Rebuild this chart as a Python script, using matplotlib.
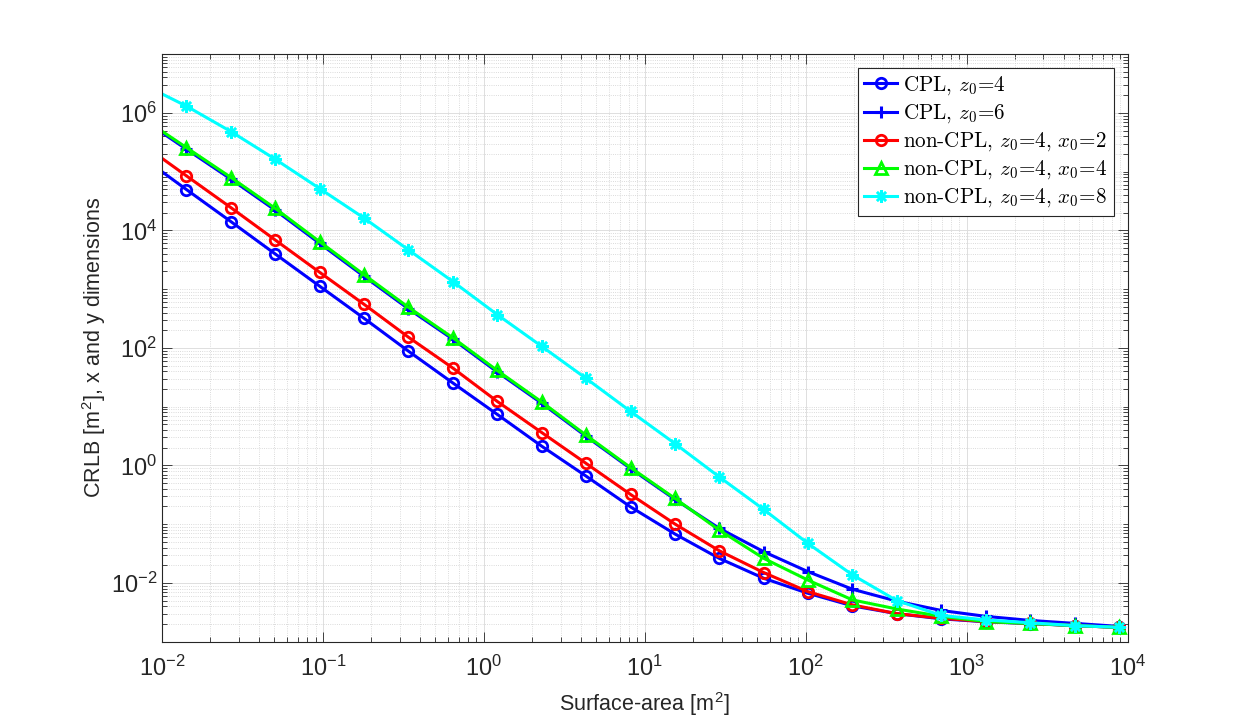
import numpy as np
import matplotlib
matplotlib.use('Agg')
import matplotlib.pyplot as plt
from matplotlib.ticker import FixedLocator, LogLocator, NullFormatter, LogFormatterSciNotation

plt.rcParams['font.family'] = ['Liberation Sans', 'DejaVu Sans']
plt.rcParams['mathtext.fontset'] = 'cm'
plt.rcParams['axes.unicode_minus'] = False

# surface area [m^2]; first sample sits just left of the visible x range
area = [0.00753, 0.0142, 0.0269, 0.0506, 0.0955, 0.180, 0.340, 0.643, 1.21, 2.29,
        4.32, 8.15, 15.4, 29.0, 54.8, 103, 195, 368, 695, 1312, 2477, 4677, 8830]

# CRLB [m^2]
cpl_z4 = [1.76e5, 4.94e4, 1.40e4, 3.96e3, 1.12e3, 319, 87.9, 25.2, 7.40, 2.12,
          0.656, 0.197, 0.068, 0.0262, 0.0120, 0.00668, 0.00407, 0.0030, 0.00245,
          0.00218, 0.00203, 0.00188, 0.00175]
cpl_z6 = [7.8e5, 2.4e5, 7.4e4, 2.2e4, 6.0e3, 1.65e3, 462, 140, 39, 11.4,
          3.12, 0.885, 0.264, 0.0849, 0.034, 0.0156, 0.00781, 0.0049, 0.0034,
          0.0027, 0.0023, 0.00205, 0.00182]
ncpl_x2 = [2.94e5, 8.45e4, 2.42e4, 6.84e3, 1.93e3, 552, 152, 45.2, 12.3, 3.62,
           1.08, 0.321, 0.1005, 0.0353, 0.0150, 0.00712, 0.00423, 0.0030, 0.0025,
           0.0022, 0.00205, 0.00188, 0.00175]
ncpl_x4 = [8.2e5, 2.56e5, 7.91e4, 2.36e4, 6.40e3, 1.76e3, 491, 148, 41.3, 12.0,
           3.26, 0.92, 0.274, 0.0794, 0.0262, 0.0112, 0.00514, 0.0036, 0.0027,
           0.0022, 0.00204, 0.00188, 0.00175]
ncpl_x8 = [3.1e6, 1.30e6, 4.78e5, 1.62e5, 5.14e4, 1.62e4, 4.66e3, 1.34e3, 369, 106,
           30.2, 8.32, 2.35, 0.638, 0.178, 0.0472, 0.0137, 0.0050, 0.0028,
           0.00235, 0.0021, 0.00188, 0.00176]

labels = ['CPL, $z_0$=4', 'CPL, $z_0$=6', 'non-CPL, $z_0$=4, $x_0$=2',
          'non-CPL, $z_0$=4, $x_0$=4', 'non-CPL, $z_0$=4, $x_0$=8']

fig = plt.figure(figsize=(12.46, 7.21), dpi=100)
ax = fig.add_axes([0.13, 0.11, 0.775, 0.815])

lw = 2.2
ax.plot(area, cpl_z4, '-o', color='b', lw=lw, ms=7.5, mew=2, mfc='none', label=labels[0])
ax.plot(area, cpl_z6, '-+', color='b', lw=lw, ms=9, mew=2.2, label=labels[1])
ax.plot(area, ncpl_x2, '-o', color='r', lw=lw, ms=7.5, mew=2, mfc='none', label=labels[2])
ax.plot(area, ncpl_x4, '-^', color=(0, 1, 0), lw=lw, ms=8.5, mew=2, mfc='none', label=labels[3])
ax.plot(area, ncpl_x8, '-', marker=(8, 2, 0), color=(0, 1, 1), lw=lw, ms=9, mew=1.8,
        label=labels[4])

ax.set_xscale('log')
ax.set_yscale('log')
ax.set_xlim(1e-2, 1e4)
ax.set_ylim(1e-3, 1e7)

ax.xaxis.set_major_locator(FixedLocator([1e-2, 1e-1, 1e0, 1e1, 1e2, 1e3, 1e4]))
ax.yaxis.set_major_locator(FixedLocator([1e-2, 1e0, 1e2, 1e4, 1e6]))
ax.xaxis.set_major_formatter(LogFormatterSciNotation())
ax.yaxis.set_major_formatter(LogFormatterSciNotation())
ax.xaxis.set_minor_locator(LogLocator(base=10, subs=np.arange(2, 10), numticks=100))
ax.yaxis.set_minor_locator(LogLocator(base=10, subs=np.arange(1, 10), numticks=100))
ax.xaxis.set_minor_formatter(NullFormatter())
ax.yaxis.set_minor_formatter(NullFormatter())

ax.grid(True, which='major', color='#dedede', lw=0.7, ls='-')
ax.grid(True, which='minor', color='#cfcfcf', lw=0.6, ls=':')
ax.set_axisbelow(True)

dark = '#262626'
for s in ax.spines.values():
    s.set_color(dark)
    s.set_linewidth(0.8)
ax.tick_params(which='both', direction='in', top=True, right=True, colors=dark,
               labelsize=17, width=0.6)
ax.tick_params(which='major', length=7)
ax.tick_params(which='minor', length=3.5)
ax.tick_params(axis='x', pad=10)

ax.set_xlabel('Surface-area [m$^\\mathregular{2}$]', fontsize=15.5, color=dark, labelpad=7)
ax.set_ylabel('CRLB [m$^\\mathregular{2}$], x and y dimensions', fontsize=15.5, color=dark)
ax.yaxis.set_label_coords(-0.056, 0.5)

leg = ax.legend(loc='upper right', bbox_to_anchor=(0.9855, 0.976), borderaxespad=0,
                prop={'family': 'cmr10', 'size': 15.2}, fancybox=False, framealpha=1,
                edgecolor=dark, handlelength=1.55, handletextpad=0.3,
                labelspacing=0.25, borderpad=0.3)
leg.get_frame().set_linewidth(0.8)

fig.savefig('out.png', dpi=100)
